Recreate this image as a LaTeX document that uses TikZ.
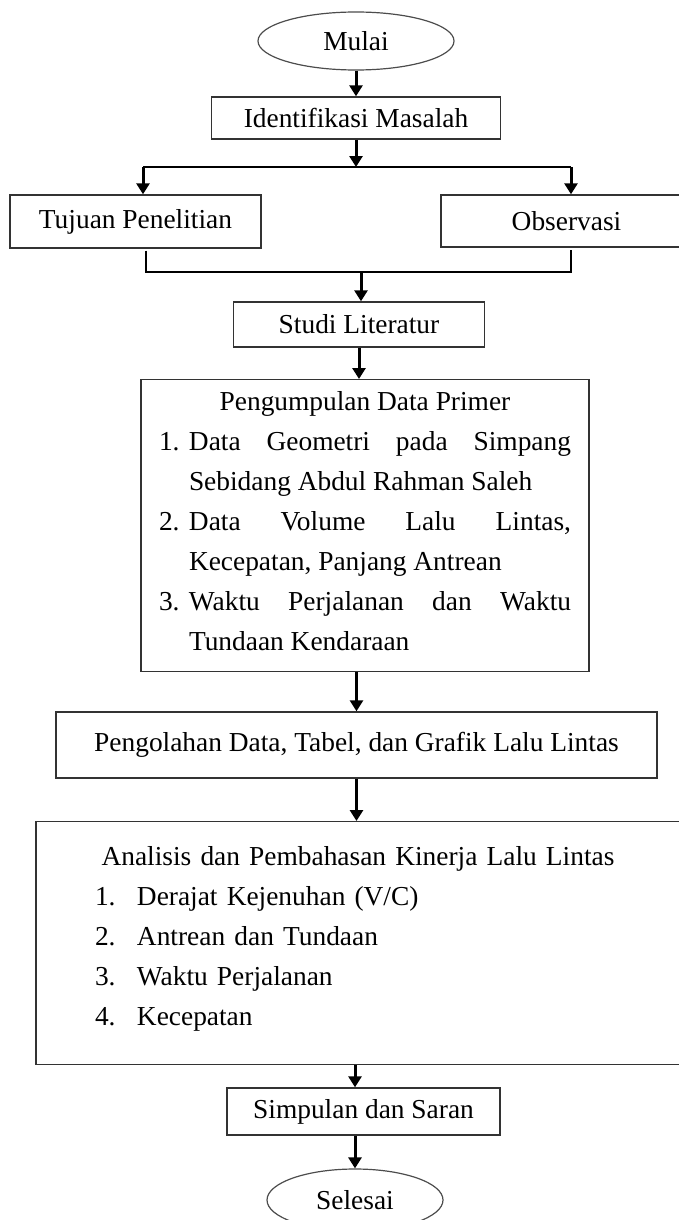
\documentclass[tikz,border=0pt]{standalone}
\usepackage{fontspec}
\setmainfont{Liberation Serif}
\usetikzlibrary{arrows.meta, positioning, shapes.geometric}

\newcommand{\butir}[3][30pt]{\par\noindent\hangindent=#1\hangafter=1\makebox[#1][l]{#2}#3\par}

\begin{document}
\begin{tikzpicture}[x=1pt, y=-1pt, font=\fontsize{27.4}{40}\selectfont,
    box/.style = {draw=black!80, line width=1.4pt, inner sep=0pt},
    oval/.style = {draw=black!70, line width=1.2pt, ellipse, inner sep=0pt},
    arr/.style = {line width=3pt, -{Triangle[width=13pt, length=11pt]}},
    garis/.style = {line width=1.3pt}]

      \useasboundingbox (0,0) rectangle (678,1220);

      % Nodes
      \node[oval, minimum width=196pt, minimum height=58pt] (mulai) at (356,41) {Mulai};
      \node[box, minimum width=289pt, minimum height=42pt] (iden) at (356,118) {Identifikasi Masalah};
      \coordinate (split) at (356,167);
      \coordinate (split-l) at (143,167);
      \coordinate (split-r) at (571,167);
      \node[box, minimum width=251pt, minimum height=53pt] (tujuan) at (135.5,221.5) {Tujuan Penelitian};
      \node[box, minimum width=251pt, minimum height=52pt] (obs) at (566.5,221) {Observasi};
      \coordinate (join-l) at (146,272);
      \coordinate (join-r) at (571,272);
      \coordinate (join) at (361,272);
      \node[box, minimum width=251pt, minimum height=45pt] (studi) at (359,324.5) {Studi Literatur};
      \node[box, anchor=north, text width=412pt, inner xsep=18pt, minimum height=292pt, align=justify] (primer) at (365,379)
        {\hyphenpenalty=10000 \tolerance=10000 \spaceskip=6.85pt plus 60pt
         {\centering Pengumpulan Data Primer\par}
         \butir{1.}{Data Geometri pada Simpang Sebidang Abdul Rahman Saleh}
         \butir{2.}{Data Volume Lalu Lintas, Kecepatan, Panjang Antrean}
         \butir{3.}{Waktu Perjalanan dan Waktu Tundaan Kendaraan\rule[-10pt]{0pt}{0pt}}};
      \node[box, minimum width=601pt, minimum height=66pt] (olah) at (356.5,745) {Pengolahan Data, Tabel, dan Grafik Lalu Lintas};
      \node[box, anchor=north, text width=526pt, inner xsep=59pt, minimum height=243pt, align=left] (anal) at (358,821)
        {{\centering Analisis dan Pembahasan Kinerja Lalu Lintas\par}
         \butir[42pt]{1.}{Derajat Kejenuhan (V/C)}
         \butir[42pt]{2.}{Antrean dan Tundaan}
         \butir[42pt]{3.}{Waktu Perjalanan}
         \butir[42pt]{4.}{Kecepatan\rule[-15pt]{0pt}{0pt}}};
      \node[box, minimum width=273pt, minimum height=47pt] (simp) at (363.5,1111.5) {Simpulan dan Saran};
      \node[oval, minimum width=176pt, minimum height=62pt] (selesai) at (355,1200) {Selesai};

      % Connectors
      \draw[arr] (mulai) -- (iden);
      \draw[arr] (iden) -- (split);
      \draw[garis] (split-l) -- (split-r);
      \draw[arr] (split-l) -- (split-l |- tujuan.north);
      \draw[arr] (split-r) -- (split-r |- obs.north);
      \draw[garis] ([yshift=-2pt]join-l |- tujuan.south) -- (join-l) -- (join-r) -- ([yshift=-2pt]join-r |- obs.south);
      \draw[arr] (join) -- (join |- studi.north);
      \draw[arr] (studi) -- (studi |- primer.north);
      \draw[arr] (olah |- primer.south) -- (olah);
      \draw[arr] (olah) -- (olah |- anal.north);
      \draw[arr] (selesai |- anal.south) -- (selesai |- simp.north);
      \draw[arr] (simp.south -| selesai) -- (selesai);

\end{tikzpicture}
\end{document}
